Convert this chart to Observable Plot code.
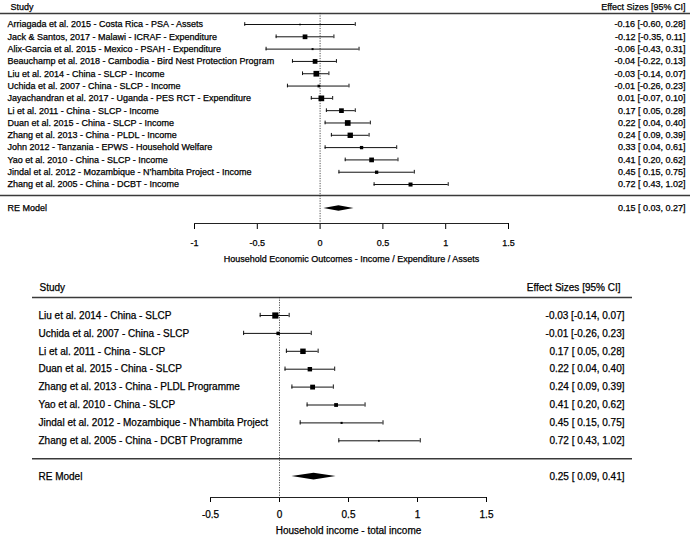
<!DOCTYPE html>
<html><head><meta charset="utf-8">
<script src="https://cdn.jsdelivr.net/npm/d3@7"></script>
<script src="https://cdn.jsdelivr.net/npm/@observablehq/plot@0.6"></script>
<style>
html,body{margin:0;padding:0;background:#fff;}
#chart svg{display:block;}
#chart svg text{stroke:#000;stroke-width:0.25px;paint-order:normal;}
</style></head><body><div id="chart"></div>
<script>
// ---------- Panel 1: Household Economic Outcomes ----------
const topStudies = [
  "Arriagada et al. 2015 - Costa Rica - PSA - Assets",
  "Jack & Santos, 2017 - Malawi - ICRAF - Expenditure",
  "Alix-Garcia et al. 2015 - Mexico - PSAH - Expenditure",
  "Beauchamp et al. 2018 - Cambodia - Bird Nest Protection Program",
  "Liu et al. 2014 - China - SLCP - Income",
  "Uchida et al. 2007 - China - SLCP - Income",
  "Jayachandran et al. 2017 - Uganda - PES RCT - Expenditure",
  "Li et al. 2011 - China - SLCP - Income",
  "Duan et al. 2015 - China - SLCP - Income",
  "Zhang et al. 2013 - China - PLDL - Income",
  "John 2012 - Tanzania - EPWS - Household Welfare",
  "Yao et al. 2010 - China - SLCP - Income",
  "Jindal et al. 2012 - Mozambique - N’hambita Project - Income",
  "Zhang et al. 2005 - China - DCBT - Income"
];
const topEst = [-0.16, -0.12, -0.06, -0.04, -0.03, -0.01, 0.01, 0.17, 0.22, 0.24, 0.33, 0.41, 0.45, 0.72];
const topLo  = [-0.60, -0.35, -0.43, -0.22, -0.14, -0.26, -0.07, 0.05, 0.04, 0.09, 0.04, 0.20, 0.15, 0.43];
const topHi  = [0.28, 0.11, 0.31, 0.13, 0.07, 0.23, 0.10, 0.28, 0.40, 0.39, 0.61, 0.62, 0.75, 1.02];
const topWeight = [2.9, 8.1, 3.4, 8.1, 9.8, 4.6, 9.8, 8.1, 9.8, 9.2, 5.7, 8.1, 5.7, 6.9];
const topRE = {label: "RE Model", est: 0.15, lo: 0.03, hi: 0.27};
const topTicks = [-1, -0.5, 0, 0.5, 1, 1.5];
const topTitle = "Household Economic Outcomes - Income / Expenditure / Assets";

// ---------- Panel 2: Household income - total income ----------
const botStudies = [
  "Liu et al. 2014 - China - SLCP",
  "Uchida et al. 2007 - China - SLCP",
  "Li et al. 2011 - China - SLCP",
  "Duan et al. 2015 - China - SLCP",
  "Zhang et al. 2013 - China - PLDL Programme",
  "Yao et al. 2010 - China - SLCP",
  "Jindal et al. 2012 - Mozambique - N’hambita Project",
  "Zhang et al. 2005 - China - DCBT Programme"
];
const botEst = [-0.03, -0.01, 0.17, 0.22, 0.24, 0.41, 0.45, 0.72];
const botLo  = [-0.14, -0.26, 0.05, 0.04, 0.09, 0.20, 0.15, 0.43];
const botHi  = [0.07, 0.23, 0.28, 0.40, 0.39, 0.62, 0.75, 1.02];
const botWeight = [19.4, 10.7, 17.1, 13.9, 15.2, 11.9, 6.5, 5.5];
const botRE = {label: "RE Model", est: 0.25, lo: 0.09, hi: 0.41};
const botTicks = [-0.5, 0, 0.5, 1, 1.5];
const botTitle = "Household income - total income";

const headerLeft = "Study";
const headerRight = "Effect Sizes [95% CI]";

const f2 = v => v.toFixed(2);
const pad = v => (v < 0 ? f2(v) : " " + f2(v));
const ciLabel = (e, l, h) => `${f2(e)} [${pad(l)}, ${f2(h)}]`;

function forest(c) {
  const n = c.studies.length;
  const rows = c.studies.map((s, i) => ({study: s, est: c.est[i], lo: c.lo[i], hi: c.hi[i], w: c.weight[i], i}));
  const axisRow = (c.height - c.marginBottom - c.row0) / c.step;
  const reRow = c.reRow(n);
  const sepRow = c.sepRow(n);
  const re = c.re;
  const diamond = [
    {x: re.lo, y1: reRow, y2: reRow},
    {x: re.est, y1: reRow - c.diamondHalf, y2: reRow + c.diamondHalf},
    {x: re.hi, y1: reRow, y2: reRow}
  ];
  const t0 = c.ticks[0], t1 = c.ticks[c.ticks.length - 1];
  const lineStroke = "#3a3a3a";
  return Plot.plot({
    width: 692,
    height: c.height,
    marginLeft: c.marginLeft,
    marginRight: c.marginRight,
    marginTop: 0,
    marginBottom: c.marginBottom,
    style: {fontFamily: "'Liberation Sans', Arial, sans-serif", fontSize: c.fontSize + "px", background: "white", color: "black"},
    x: {domain: [t0, t1], range: c.xRange, ticks: c.ticks, tickFormat: d => String(d), tickSize: c.tickSize, tickPadding: c.tickPadding, label: null},
    y: {domain: [0, n - 1], range: [c.row0, c.row0 + c.step * (n - 1)], axis: null},
    r: {type: "linear", domain: [0, d3.max(c.weight)], range: [0, c.maxSide / Math.sqrt(Math.PI)]},
    marks: [
      Plot.ruleY([c.headerRow, sepRow], {stroke: lineStroke, strokeWidth: 1.5}),
      Plot.ruleX([0], {y1: c.headerRow, y2: axisRow, stroke: "#222", strokeWidth: 0.8, strokeDasharray: "1.2,1.3"}),
      Plot.ruleY(rows, {y: "i", x1: "lo", x2: "hi", stroke: "#111", strokeWidth: 1}),
      Plot.ruleX(rows, {x: "lo", y1: d => d.i - c.cap, y2: d => d.i + c.cap, stroke: "#111", strokeWidth: 1}),
      Plot.ruleX(rows, {x: "hi", y1: d => d.i - c.cap, y2: d => d.i + c.cap, stroke: "#111", strokeWidth: 1}),
      Plot.dot(rows, {x: "est", y: "i", r: "w", symbol: "square", fill: "black", stroke: "none"}),
      Plot.areaY(diamond, {x: "x", y1: "y1", y2: "y2", fill: "black", curve: "linear"}),
      Plot.ruleY([axisRow], {x1: t0, x2: t1, stroke: "#222", strokeWidth: 1.1}),
      Plot.text(rows, {y: "i", text: "study", frameAnchor: "left", textAnchor: "start", dx: c.labelDx}),
      Plot.text(rows, {y: "i", text: d => ciLabel(d.est, d.lo, d.hi), frameAnchor: "right", textAnchor: "end", dx: c.rightDx}),
      Plot.text([re], {y: () => reRow, text: "label", frameAnchor: "left", textAnchor: "start", dx: c.labelDx}),
      Plot.text([re], {y: () => reRow, text: d => ciLabel(d.est, d.lo, d.hi), frameAnchor: "right", textAnchor: "end", dx: c.rightDx}),
      Plot.text([headerLeft], {y: () => c.headerTextRow, text: d => d, frameAnchor: "left", textAnchor: "start", dx: c.headerDx}),
      Plot.text([headerRight], {y: () => c.headerTextRow, text: d => d, frameAnchor: "right", textAnchor: "end", dx: c.headerRightDx}),
      Plot.text([c.title], {x: () => (t0 + t1) / 2, text: d => d, frameAnchor: "bottom", dy: c.titleDy})
    ]
  });
}

const topPlot = forest({
  studies: topStudies, est: topEst, lo: topLo, hi: topHi, weight: topWeight, re: topRE,
  ticks: topTicks, title: topTitle,
  height: 272, marginLeft: 0, marginRight: 2, marginBottom: 49,
  row0: 24, step: 12.31, xRange: [194, 508], fontSize: 9,
  labelDx: 7, headerDx: 10, rightDx: -5, headerRightDx: -5,
  headerRow: -0.9, headerTextRow: -1.45,
  sepRow: n => n - 1 + 0.9, reRow: n => n + 0.95,
  cap: 0.15, diamondHalf: 0.23, maxSide: 5.7,
  tickSize: 6, tickPadding: 10, titleDy: 38
});

const botPlot = forest({
  studies: botStudies, est: botEst, lo: botLo, hi: botHi, weight: botWeight, re: botRE,
  ticks: botTicks, title: botTitle,
  height: 267, marginLeft: 32, marginRight: 60, marginBottom: 42,
  row0: 43, step: 17.9, xRange: [210, 486], fontSize: 10,
  labelDx: 6, headerDx: 7, rightDx: -8, headerRightDx: -12,
  headerRow: -1.0, headerTextRow: -1.55,
  sepRow: n => n, reRow: n => n + 1,
  cap: 0.12, diamondHalf: 0.19, maxSide: 6.2,
  tickSize: 5, tickPadding: 8, titleDy: 36
});

const chart = document.getElementById("chart");
chart.appendChild(topPlot);
chart.appendChild(botPlot);
</script>
</body></html>
